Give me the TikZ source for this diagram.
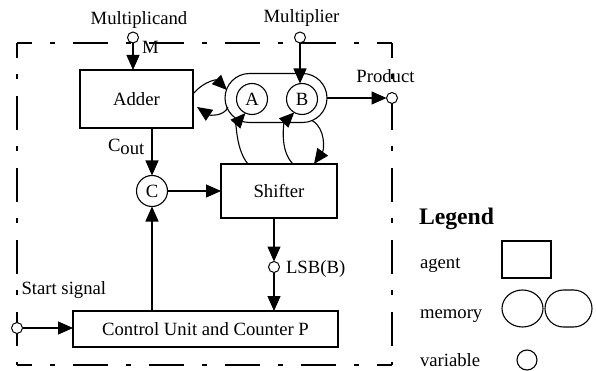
\documentclass[tikz,border=0pt]{standalone}
\usepackage{fontspec}
\setmainfont{Liberation Serif}
\usetikzlibrary{arrows.meta,calc,shapes.misc,shapes.geometric}
\begin{document}
\begin{tikzpicture}[x=1pt,y=-1pt,
  every node/.style={font=\fontsize{18.7}{22}\selectfont, inner sep=0pt, outer sep=0pt},
  agentbox/.style={draw, line width=1.1pt, rectangle},
  var/.style={draw, circle, fill=white, line width=1pt, minimum size=11pt},
  mvar/.style={draw, circle, line width=1.1pt, minimum size=31pt},
  arr/.style={-{Triangle[length=15pt,width=13pt]}, line width=1.1pt},
  hborder/.style={line width=1.1pt, dash pattern=on 35pt off 18pt on 5pt off 18pt, dash phase=20pt},
  vborder/.style={line width=1.1pt, dash pattern=on 34pt off 16pt on 5pt off 17pt, dash phase=19pt},
]
\useasboundingbox (0,0) rectangle (596,371);

% dashed system border
\coordinate (tl) at (17,43);
\coordinate (tr) at (392,43);
\coordinate (bl) at (17,365);
\coordinate (br) at (392,365);
\draw[hborder] (tl) -- (tr);
\draw[hborder] (bl) -- (br);
\draw[vborder] (tl) -- (bl);
\draw[vborder] (tr) -- (br);

% agents and memories
\node[agentbox, minimum width=113pt, minimum height=58pt] (adder) at (136.5,99) {Adder};
\node[draw, rounded rectangle, line width=1.1pt, minimum width=102pt, minimum height=49pt] (mem) at (276,98) {};
\node[mvar] (A) at (252,99) {A};
\node[mvar] (B) at (302,99) {B};
\node[agentbox, minimum width=116pt, minimum height=54pt] (shifter) at (279,191) {Shifter};
\node[mvar] (C) at (152,191) {C};
\node[agentbox, minimum width=265pt, minimum height=36pt] (ctrl) at (205.5,329) {Control Unit and Counter P};

% variables
\node[var] (mc) at (133,37.5) {};
\node[var] (mu) at (300,37.5) {};
\node[var] (prod) at (392,98) {};
\node[var] (start) at (17,328) {};
\node[var] (lsb) at (274,267) {};

% labels
\node[anchor=base] (tmc) at (139,24.5) {Multiplicand};
\node[anchor=base] (tmu) at (301.5,23) {Multiplier};
\node[anchor=base] (tprod) at (385.5,83) {Product};
\node[anchor=base west] (tM) at (142,54) {M};
\node[anchor=base west] (tcout) at (108,152) {C\raisebox{-3pt}{out}};
\node[anchor=base west] (tlsb) at (286,273) {LSB(B)};
\node[anchor=base west] (tstart) at (21.5,294) {Start signal};

% connectors
\draw[arr] (mc.south) -- (mc.south |- adder.north);
\draw[arr] (mu.south) -- (mu.south |- B.north);
\draw[arr] (mem.east) -- (prod.west);
\draw[arr] ($(adder.east)+(0,-5)$) .. controls +(12,-14) and +(-10,-10) .. ($(mem.west)+(2,-8)$);
\draw[arr] ($(mem.west)+(3,9)$) .. controls +(-4,10) and +(12,8) .. ($(adder.east)+(4,8)$);
\draw[arr] ($(shifter.north)+(-31,0)$) .. controls +(-12,-14) and +(-9,10) .. (A.245);
\draw[arr] ($(shifter.north)+(14,0)$) .. controls +(-14,-14) and +(-10,10) .. (B.240);
\draw[arr] ($(mem.south)+(36,-2)$) .. controls +(14,8) and +(10,-14) .. ($(shifter.north)+(35,0)$);
\draw[arr] (C |- adder.south) -- (C.north);
\draw[arr] (C.east) -- (shifter.west);
\draw[arr] (lsb |- shifter.south) -- (lsb.north);
\draw[arr] (lsb.south) -- (lsb |- ctrl.north);
\draw[arr] (C |- ctrl.north) -- (C.south);
\draw[arr] (start.east) -- (start -| ctrl.west);

% legend
\node[anchor=base west, font=\bfseries\fontsize{23.7}{28}\selectfont] (tleg) at (419,224) {Legend};
\node[anchor=base west] (tagent) at (420,268) {agent};
\node[anchor=base west] (tmemory) at (420,318) {memory};
\node[anchor=base west] (tvariable) at (420,366.5) {variable};
\node[agentbox, minimum width=49pt, minimum height=37pt] (lagent) at (526.5,259.5) {};
\node[draw, ellipse, line width=1.1pt, minimum width=41pt, minimum height=37pt] (lmem1) at (522.5,308.5) {};
\node[draw, rounded rectangle, line width=1.1pt, minimum width=47pt, minimum height=37pt] (lmem2) at (568.5,308.5) {};
\node[draw, circle, line width=1.1pt, minimum size=20pt] (lvar) at (527,360) {};
\end{tikzpicture}
\end{document}
